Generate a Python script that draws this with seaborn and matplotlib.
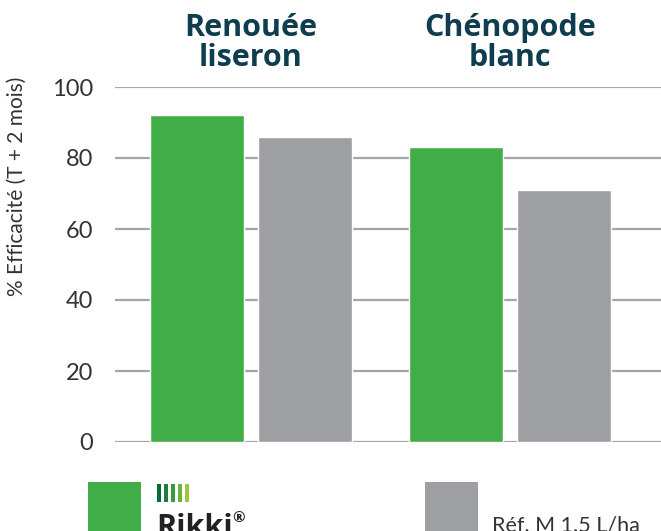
import matplotlib
matplotlib.use("Agg")
import matplotlib.pyplot as plt
from matplotlib.patches import Rectangle
import pandas as pd
import seaborn as sns

# ── Data ──────────────────────────────────────────────────────────────────────
weeds      = ["Renouée\nliseron", "Chénopode\nblanc"]
products   = ["Rikki", "Réf. M 1.5 L/ha"]
rikki      = [92, 83]
reference  = [86, 71]
y_ticks    = [0, 20, 40, 60, 80, 100]

GREEN, GREY = "#41ad49", "#9d9fa2"
TITLE_COL   = "#0e3d4f"
LOGO_COLS   = ["#0b6a36", "#1d7d3b", "#3a9a40", "#6cb33f", "#9bc83c"]

df = pd.DataFrame({
    "weed":     weeds * 2,
    "product":  [products[0]] * 2 + [products[1]] * 2,
    "efficacy": rikki + reference,
})

sns.set_theme(style="white")
plt.rcParams["font.family"] = ["Lato", "DejaVu Sans"]

W, H = 661, 531
fig = plt.figure(figsize=(W / 100, H / 100), dpi=100)
ax = fig.add_axes([115 / W, (H - 442) / H, 1 - 115 / W, (442 - 87) / H])

sns.barplot(data=df, x="weed", y="efficacy", hue="product", order=weeds,
            hue_order=products, palette=[GREEN, GREY], width=0.834, gap=0.13,
            saturation=1, legend=False, ax=ax, zorder=3)

ax.set_ylim(0, 100)
ax.set_xlim(-0.525, 1.583)
ax.set_yticks(y_ticks)
ax.yaxis.grid(True, color="#a3a5aa", linewidth=1.6, zorder=0)
ax.set_axisbelow(True)
for s in ax.spines.values():
    s.set_visible(False)
ax.tick_params(axis="y", length=0, pad=16, labelsize=17, labelcolor="#333333")

# category labels on top
ax.xaxis.tick_top()
ax.tick_params(axis="x", length=0, pad=10)
ax.set_xticks(range(len(weeds)))
ax.set_xticklabels(weeds, fontsize=22, fontweight="bold", color=TITLE_COL,
                   family=["Open Sans", "DejaVu Sans"], linespacing=1.0)
ax.set_xlabel("")
ax.set_ylabel("% Efficacité (T + 2 mois)", fontsize=15, color="#333333",
              labelpad=0)
ax.yaxis.set_label_coords(-(115 - 27) / (W - 115), (442 - 186) / (442 - 87))

# ── Legend (bottom, clipped by figure edge) ───────────────────────────────────
def fx(px): return px / W
def fy(py): return (H - py) / H

fig.add_artist(Rectangle((fx(88), fy(545)), fx(141) - fx(88), fy(482) - fy(545),
                         transform=fig.transFigure, color=GREEN, lw=0))
fig.add_artist(Rectangle((fx(425), fy(545)), fx(478) - fx(425), fy(482) - fy(545),
                         transform=fig.transFigure, color=GREY, lw=0))
for i, c in enumerate(LOGO_COLS):
    x0 = 157 + i * 7
    fig.add_artist(Rectangle((fx(x0), fy(502)), fx(4), fy(484) - fy(502),
                             transform=fig.transFigure, color=c, lw=0))
fig.text(fx(156), fy(513), "Rikki", fontsize=22, fontweight="bold",
         color="#222222", va="top", ha="left", family=["Open Sans", "DejaVu Sans"])
fig.text(fx(232), fy(511), "®", fontsize=11, fontweight="bold",
         color="#222222", va="top", ha="left", family=["Open Sans", "DejaVu Sans"])
fig.text(fx(492), fy(515), products[1], fontsize=15.5, color="#333333",
         va="top", ha="left")

fig.savefig("out.png", dpi=100)
